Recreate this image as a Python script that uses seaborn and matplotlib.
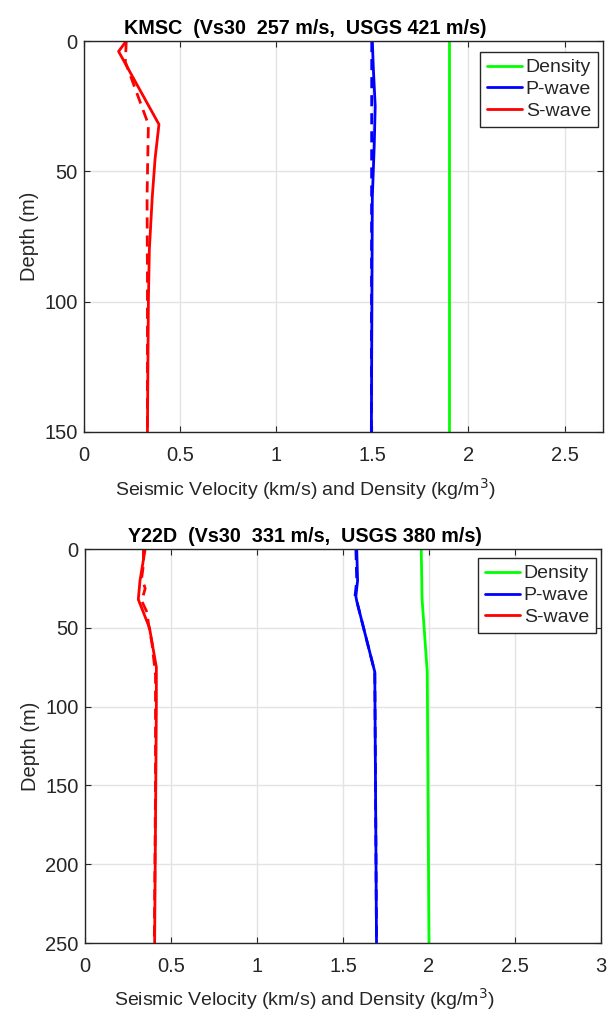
import matplotlib
matplotlib.use("Agg")
import matplotlib.pyplot as plt
import seaborn as sns
import numpy as np

# ---- KMSC (top panel) ----
kmsc_title = "KMSC  (Vs30  257 m/s,  USGS 421 m/s)"
kmsc_rho_depth = [0, 150]
kmsc_rho = [1.90, 1.90]
kmsc_vp_depth = [0, 10, 25, 40, 60, 150]
kmsc_vp = [1.500, 1.505, 1.515, 1.510, 1.500, 1.495]
kmsc_vp_ref_depth = [0, 150]
kmsc_vp_ref = [1.497, 1.495]
kmsc_vs_depth = [0, 4, 32, 45, 60, 80, 100, 150]
kmsc_vs = [0.22, 0.18, 0.39, 0.37, 0.355, 0.34, 0.335, 0.33]
kmsc_vs_ref_depth = [0, 8, 32, 60, 90, 150]
kmsc_vs_ref = [0.22, 0.215, 0.335, 0.328, 0.33, 0.33]

# ---- Y22D (bottom panel) ----
y22d_title = "Y22D  (Vs30  331 m/s,  USGS 380 m/s)"
y22d_rho_depth = [0, 32, 78, 250]
y22d_rho = [1.955, 1.96, 1.99, 2.00]
y22d_vp_depth = [0, 20, 30, 33, 78, 250]
y22d_vp = [1.58, 1.585, 1.575, 1.58, 1.685, 1.695]
y22d_vp_ref_depth = [0, 20, 30, 33, 78, 250]
y22d_vp_ref = [1.575, 1.58, 1.57, 1.58, 1.685, 1.695]
y22d_vs_depth = [0, 20, 32, 50, 75, 100, 250]
y22d_vs = [0.35, 0.32, 0.31, 0.375, 0.415, 0.415, 0.405]
y22d_vs_ref_depth = [0, 10, 18, 25, 33, 40, 48, 60, 80, 150, 250]
y22d_vs_ref = [0.34, 0.34, 0.33, 0.35, 0.33, 0.36, 0.37, 0.39, 0.41, 0.41, 0.403]

x_ticks_top = [0, 0.5, 1, 1.5, 2, 2.5]
x_ticks_bot = [0, 0.5, 1, 1.5, 2, 2.5, 3]
y_ticks_top = [0, 50, 100, 150]
y_ticks_bot = [0, 50, 100, 150, 200, 250]

sns.set_theme(style="whitegrid")
plt.rcParams['font.family'] = ['Liberation Sans', 'DejaVu Sans']

GREEN = "#00ff00"
BLUE = "#0000ff"
RED = "#ff0000"
EDGE = "#262626"

fig = plt.figure(figsize=(6.10, 10.15), dpi=100)
ax1 = fig.add_axes([0.1377, 0.5744, 0.8508, 0.3852])
ax2 = fig.add_axes([0.1393, 0.0709, 0.8459, 0.3882])


def draw(ax, title, rho_d, rho, vp_d, vp, vpr_d, vpr, vs_d, vs, vsr_d, vsr,
         xlim, ylim, xt, yt, cx, xl_y, leg_anchor):
    lw = 2.0
    sns.lineplot(x=rho, y=rho_d, sort=False, estimator=None, color=GREEN,
                 lw=lw, ax=ax, label="Density")
    sns.lineplot(x=vp, y=vp_d, sort=False, estimator=None, color=BLUE,
                 lw=lw, ax=ax, label="P-wave")
    sns.lineplot(x=vs, y=vs_d, sort=False, estimator=None, color=RED,
                 lw=lw, ax=ax, label="S-wave")
    sns.lineplot(x=vpr, y=vpr_d, sort=False, estimator=None, color=BLUE,
                 lw=lw, ax=ax, linestyle=(0, (4, 2.5)), legend=False)
    sns.lineplot(x=vsr, y=vsr_d, sort=False, estimator=None, color=RED,
                 lw=lw, ax=ax, linestyle=(0, (4, 2.5)), legend=False)
    ax.set_xlim(*xlim)
    ax.set_ylim(ylim[1], ylim[0])
    ax.set_xticks(xt)
    ax.set_xticklabels([f"{v:g}" for v in xt])
    ax.set_yticks(yt)
    ax.grid(True, color="#e3e3e3", lw=1.0)
    ax.set_axisbelow(True)
    for s in ax.spines.values():
        s.set_color(EDGE)
        s.set_linewidth(1.0)
        s.set_visible(True)
    ax.tick_params(direction="in", length=4, width=0.8, color=EDGE,
                   top=True, right=True, bottom=True, left=True,
                   labelsize=14.5, labelcolor="#262626")
    ax.tick_params(axis="x", pad=10)
    ax.tick_params(axis="y", pad=4.5)
    ax.set_xlabel("Seismic Velocity (km/s) and Density (kg/m$^3$)",
                  fontsize=14, color="#262626")
    ax.xaxis.set_label_coords(cx, xl_y)
    ax.set_ylabel("Depth (m)", fontsize=14.5, color="#262626", labelpad=4)
    ax.set_title(title, fontsize=14.2, fontweight="bold", color="black",
                 pad=5, x=cx)
    leg = ax.legend(loc="upper right", bbox_to_anchor=leg_anchor,
                    fontsize=14, frameon=True, fancybox=False,
                    handlelength=1.8, borderpad=0.35, labelspacing=0.22,
                    handletextpad=0.2, borderaxespad=0.0)
    leg.get_frame().set_edgecolor(EDGE)
    leg.get_frame().set_linewidth(1.0)
    leg.get_frame().set_alpha(1.0)
    for t in leg.get_texts():
        t.set_color("#262626")


draw(ax1, kmsc_title, kmsc_rho_depth, kmsc_rho, kmsc_vp_depth, kmsc_vp,
     kmsc_vp_ref_depth, kmsc_vp_ref, kmsc_vs_depth, kmsc_vs,
     kmsc_vs_ref_depth, kmsc_vs_ref, (0, 2.7), (0, 150),
     x_ticks_top, y_ticks_top, 0.426, -0.112, (0.990, 0.972))
draw(ax2, y22d_title, y22d_rho_depth, y22d_rho, y22d_vp_depth, y22d_vp,
     y22d_vp_ref_depth, y22d_vp_ref, y22d_vs_depth, y22d_vs,
     y22d_vs_ref_depth, y22d_vs_ref, (0, 3.0), (0, 250),
     x_ticks_bot, y_ticks_bot, 0.426, -0.110, (0.990, 0.977))

fig.savefig("out.png", dpi=100, facecolor="white")
